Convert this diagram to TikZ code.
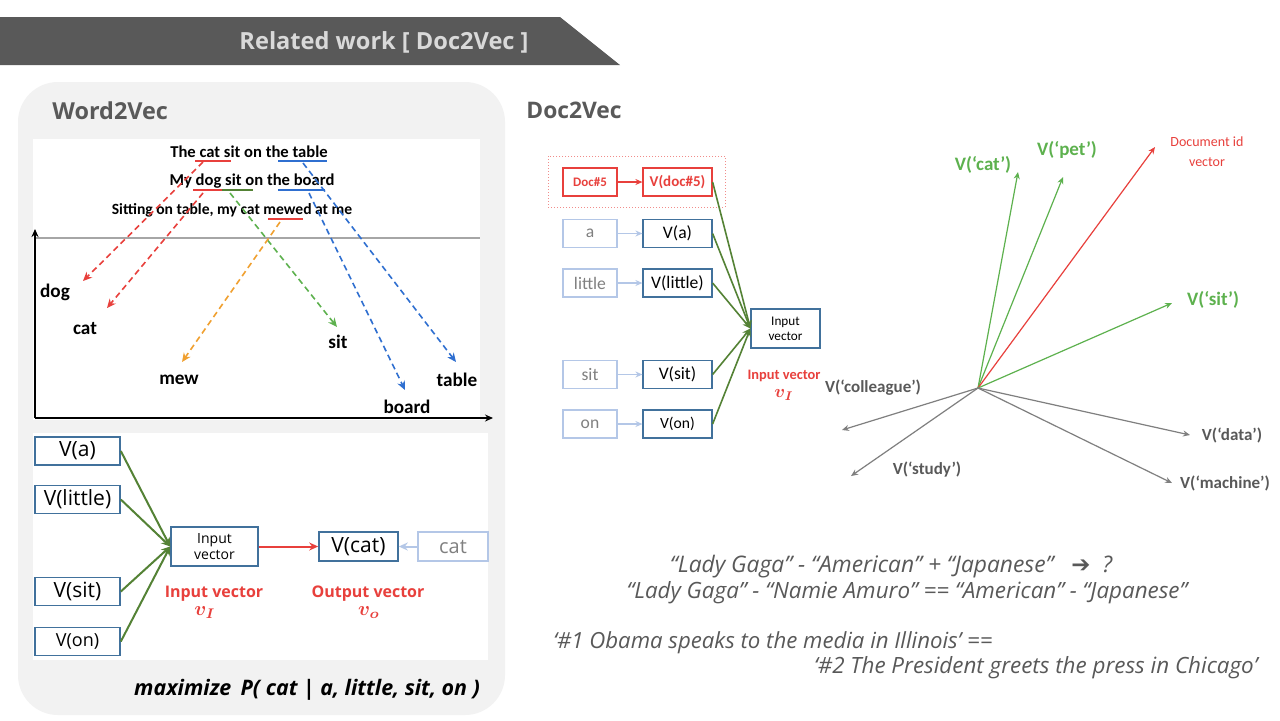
\documentclass[tikz,border=0pt]{standalone}
\usepackage{amsmath}
\usepackage{fontspec}
\setmainfont{Carlito}
\newfontfamily\og{Open Sans}
\newfontfamily\djfont{DejaVu Sans}
\usetikzlibrary{arrows.meta}
\definecolor{hdr}{HTML}{595959}
\definecolor{hdrtxt}{HTML}{D9D9D9}
\definecolor{panel}{HTML}{F2F2F2}
\definecolor{bblue}{HTML}{41719C}
\definecolor{lblue}{HTML}{B4C7E7}
\definecolor{ltxt}{HTML}{808080}
\definecolor{dgreen}{HTML}{548235}
\definecolor{lgreen}{HTML}{5DB14E}
\definecolor{myred}{HTML}{E8403C}
\definecolor{myorange}{HTML}{F0A030}
\definecolor{myblue}{HTML}{2F6FD0}
\definecolor{vgray}{HTML}{7F7F7F}
\definecolor{tgray}{HTML}{595959}
\begin{document}
\begin{tikzpicture}[x=0.5pt,y=-0.5pt,
  vbox/.style={draw=bblue, line width=0.8pt, inner sep=0pt, minimum width=42.5pt, minimum height=14pt, font=\og\fontsize{10.5}{12}\selectfont},
  wbox/.style={draw=lblue, line width=0.8pt, inner sep=0pt, text=ltxt, minimum width=35pt, minimum height=14.5pt, font=\og\fontsize{10}{12}\selectfont},
  rvbox/.style={draw=bblue, line width=0.6pt, inner sep=0pt, minimum width=34.5pt, minimum height=14pt, font=\fontsize{8.8}{10}\selectfont},
  rwbox/.style={draw=lblue, line width=0.6pt, inner sep=0pt, text=ltxt, minimum width=27pt, minimum height=14pt, font=\fontsize{8.8}{10}\selectfont},
  sent/.style={font=\bfseries\fontsize{8.3}{10}\selectfont, inner sep=0pt},
  wlab/.style={font=\bfseries\fontsize{9.6}{11}\selectfont, inner sep=0pt},
  garr/.style={draw=dgreen, line width=1pt, -{Stealth[length=4.5pt,width=4pt]}},
  dash arr/.style={line width=0.8pt, dash pattern=on 3pt off 2pt, -{Stealth[length=4.5pt,width=4pt]}},
  vec/.style={line width=0.6pt, -{Stealth[length=3.5pt,width=3pt]}},
  glab/.style={text=lgreen, font=\bfseries\fontsize{9.5}{11}\selectfont, inner sep=0pt},
  vlab/.style={text=tgray, font=\bfseries\fontsize{8.5}{10}\selectfont, inner sep=0pt},
  btxt/.style={text=tgray, font=\og\itshape\fontsize{11.2}{13}\selectfont, inner sep=0pt},
  redlab/.style={text=myred, font=\og\bfseries\fontsize{8}{9}\selectfont, inner sep=0pt, align=center}
]
\useasboundingbox (0,0) rectangle (1280,720);
\fill[white] (0,0) rectangle (1280,720);
% header
\fill[hdr] (0,17) -- (560,17) -- (620,65) -- (0,65) -- cycle;
\node[text=hdrtxt, font=\og\bfseries\fontsize{11.8}{13}\selectfont] (title) at (384,42) {Related work [ Doc2Vec ]};
% left panel
\fill[panel, rounded corners=20pt] (18,82) rectangle (505,715);
\node[anchor=west, text=tgray, font=\og\bfseries\fontsize{11.7}{13}\selectfont, inner sep=0pt] (w2v) at (52,111) {Word2Vec};
\fill[white] (33,139) rectangle (480,420);
\fill[white] (33,433) rectangle (488,660);
% axes
\draw[gray!70, line width=0.6pt] (35,238) -- (480,238);
\coordinate (ax0) at (35,418);
\coordinate (axy) at (35,229);
\coordinate (axx) at (493,418);
\draw[line width=1pt, -{Stealth[length=4pt,width=3.5pt]}] (ax0) -- (axy);
\draw[line width=1pt, -{Stealth[length=4pt,width=3.5pt]}] (ax0) -- (axx);
% sentences
\node[sent] (s1) at (249,152) {The cat sit on the table};
\node[sent] (s2) at (252,181) {My dog sit on the board};
\node[sent, font=\bfseries\fontsize{7.8}{10}\selectfont] (s3) at (232,210) {Sitting on table, my cat mewed at me};
\draw[myred, line width=1.2pt] (195,161) -- (231,161);
\draw[myblue, line width=1.2pt] (278,161) -- (327,161);
\draw[myred, line width=1.2pt] (193,190) -- (222,190);
\draw[dgreen, line width=1.2pt] (222,190) -- (253,190);
\draw[myblue, line width=1.2pt] (278,190) -- (325,190);
\draw[myred, line width=1.2pt] (268,219) -- (303,219);
% word labels
\node[wlab] (dog) at (55,292) {dog};
\node[wlab] (cat) at (85,329) {cat};
\node[wlab] (mew) at (179,380) {mew};
\node[wlab] (sit) at (338,342) {sit};
\node[wlab] (table) at (457,380) {table};
\node[wlab] (board) at (407,407) {board};
\coordinate (d1s) at (203,162); \coordinate (d1e) at (83,281);
\coordinate (d2s) at (203,193); \coordinate (d2e) at (107,308);
\coordinate (d3s) at (230,193); \coordinate (d3e) at (337,327);
\coordinate (d4s) at (280,222); \coordinate (d4e) at (182,362);
\coordinate (d5s) at (303,163); \coordinate (d5e) at (456,362);
\coordinate (d6s) at (309,193); \coordinate (d6e) at (405,390);
\draw[dash arr, myred] (d1s) -- (d1e);
\draw[dash arr, myred] (d2s) -- (d2e);
\draw[dash arr, lgreen] (d3s) -- (d3e);
\draw[dash arr, myorange] (d4s) -- (d4e);
\draw[dash arr, myblue] (d5s) -- (d5e);
\draw[dash arr, myblue] (d6s) -- (d6e);
% bottom left CBOW
\node[vbox] (va) at (77.5,451) {V(a)};
\node[vbox] (vlittle) at (77.5,499.5) {V(little)};
\node[vbox] (vsit) at (77.5,591.5) {V(sit)};
\node[vbox, font=\og\fontsize{9}{10}\selectfont] (von) at (77.5,641.5) {V(on)};
\node[vbox, minimum width=43.5pt, minimum height=19.5pt, align=center, font=\og\fontsize{7}{8}\selectfont] (inp) at (214.5,546.5) {Input\\vector};
\node[vbox, minimum width=39.5pt, minimum height=14.5pt] (vcat) at (358.5,546.5) {V(cat)};
\node[wbox] (catb) at (453,546.5) {cat};
\foreach \s in {va,vlittle,vsit,von} \draw[garr] (\s.east) -- (inp.west);
\draw[myred, line width=1pt, -{Stealth[length=4.5pt,width=4pt]}] (inp) -- (vcat);
\draw[lblue, line width=1pt, -{Stealth[length=4.5pt,width=4pt]}] (catb) -- (vcat);
\node[redlab] (inl) at (214,594) {Input vector};
\node[text=myred, inner sep=0pt] (inv) at (205,613) {$\boldsymbol{v_{I}}$};
\node[redlab] (outl) at (368,594) {Output vector};
\node[text=myred, inner sep=0pt] (outv) at (369,613) {$\boldsymbol{v_{o}}$};
\node[font=\og\bfseries\itshape\fontsize{10.7}{12}\selectfont, inner sep=0pt] (maxp) at (307,690) {maximize\, P( cat | a, little, sit, on )};
% right: Doc2Vec
\node[anchor=west, text=tgray, font=\og\bfseries\fontsize{11.4}{13}\selectfont, inner sep=0pt] (d2v) at (526,110) {Doc2Vec};
\node[draw=myred!60, densely dotted, line width=0.5pt, minimum width=88.5pt, minimum height=25.5pt, inner sep=0pt] (dotbox) at (636.5,181.5) {};
\node[rwbox, draw=myred, text=myred, font=\bfseries\fontsize{6.5}{8}\selectfont] (doc5) at (590,182) {Doc\#5};
\node[rvbox, draw=myred, text=myred, font=\bfseries\fontsize{7.5}{9}\selectfont] (vdoc5) at (677.5,182) {V(doc\#5)};
\node[rwbox] (ra) at (590,233.5) {a};
\node[rvbox] (vra) at (677.5,233.5) {V(a)};
\node[rwbox] (rlittle) at (590,283) {little};
\node[rvbox] (vrlittle) at (677.5,283) {V(little)};
\node[rwbox] (rsit) at (590,374.5) {sit};
\node[rvbox] (vrsit) at (677.5,374.5) {V(sit)};
\node[rwbox] (ron) at (590,424) {on};
\node[rvbox, font=\fontsize{7.8}{9}\selectfont] (vron) at (677.5,424) {V(on)};
\node[rvbox, minimum width=34.5pt, minimum height=19.5pt, align=center, font=\fontsize{6.6}{7.5}\selectfont] (rinp) at (785.5,328.5) {Input\\vector};
\draw[myred, line width=0.6pt, -{Stealth[length=3.5pt,width=3pt]}] (doc5) -- (vdoc5);
\foreach \a/\b in {ra/vra, rlittle/vrlittle, rsit/vrsit, ron/vron}
  \draw[lblue, line width=0.6pt, -{Stealth[length=3.5pt,width=3pt]}] (\a) -- (\b);
\foreach \s in {vdoc5,vra,vrlittle,vrsit,vron}
  \draw[dgreen, line width=0.8pt, -{Stealth[length=4pt,width=3.5pt]}] (\s.east) -- (rinp.west);
\node[text=myred, font=\bfseries\fontsize{7.2}{8}\selectfont, inner sep=0pt] (rinl) at (784,376) {Input vector};
\node[text=myred, inner sep=0pt, scale=0.9] (rinv) at (784,395) {$\boldsymbol{v_{I}}$};
% vector space
\coordinate (O) at (978,388);
\coordinate (ecat) at (1018,172);
\coordinate (epet) at (1063,177);
\coordinate (edoc) at (1155,147);
\coordinate (esit) at (1172,303);
\coordinate (ecol) at (842,430);
\coordinate (estu) at (851,476);
\coordinate (edat) at (1190,435);
\coordinate (emac) at (1172,483);
\draw[vec, lgreen] (O) -- (ecat);
\draw[vec, lgreen] (O) -- (epet);
\draw[vec, myred] (O) -- (edoc);
\draw[vec, lgreen] (O) -- (esit);
\draw[vec, vgray] (O) -- (ecol);
\draw[vec, vgray] (O) -- (estu);
\draw[vec, vgray] (O) -- (edat);
\draw[vec, vgray] (O) -- (emac);
\node[glab] (lcat) at (983,165) {V(‘cat’)};
\node[glab] (lpet) at (1067,150) {V(‘pet’)};
\node[glab] (lsit) at (1213,300) {V(‘sit’)};
\node[text=myred, font=\fontsize{7}{10}\selectfont, align=center, inner sep=0pt] (ldoc) at (1207,152) {Document id\\vector};
\node[vlab] (lcol) at (873,388) {V(‘colleague’)};
\node[vlab] (lstu) at (927,470) {V(‘study’)};
\node[vlab] (ldat) at (1232,435) {V(‘data’)};
\node[vlab] (lmac) at (1225,483) {V(‘machine’)};
% bottom text
\node[btxt, font=\og\itshape\fontsize{11.4}{13}\selectfont] (t1) at (891,567) {“Lady Gaga” - “American” + “Japanese” \ \ {\djfont\upshape\bfseries ➔} \ ?};
\node[btxt] (t2) at (907,593) {“Lady Gaga” - “Namie Amuro” == “American” - “Japanese”};
\node[btxt, anchor=west, font=\og\itshape\fontsize{11.1}{13}\selectfont] (t3) at (553,643) {‘\#1 Obama speaks to the media in Illinois’ ==};
\node[btxt, anchor=east] (t4) at (1258,668) {‘\#2 The President greets the press in Chicago’};
\end{tikzpicture}
\end{document}
